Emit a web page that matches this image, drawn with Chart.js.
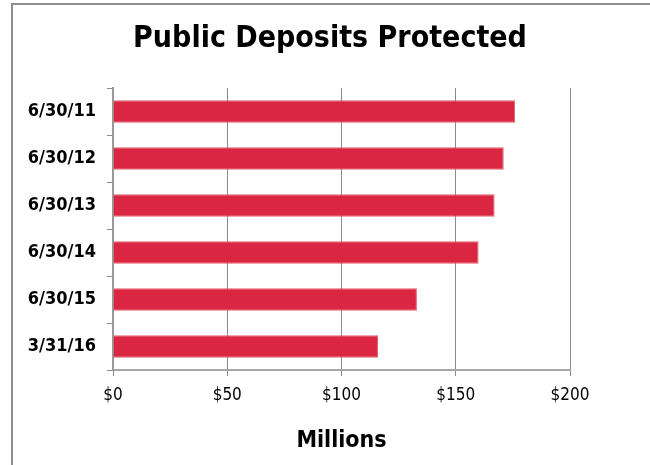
<!DOCTYPE html>
<html>
<head>
<meta charset="utf-8">
<script src="https://cdn.jsdelivr.net/npm/chart.js@4/dist/chart.umd.min.js"></script>
<style>
  html, body { margin: 0; padding: 0; background: #fff; overflow: hidden; }
  body { width: 650px; height: 465px; position: relative; }
  /* рамка діаграми: видно лише верхній і лівий край */
  #frame {
    position: absolute; left: 11px; top: 3px; right: -20px; bottom: -20px;
    border-left: 2px solid #8f8f8f; border-top: 2px solid #8f8f8f;
  }
  #wrap { position: absolute; left: 0; top: 0; width: 650px; height: 465px; }
</style>
</head>
<body>
<div id="frame"></div>
<div id="wrap"><canvas id="depositsChart"></canvas></div>
<script>
// Дати звітів і суми захищених депозитів (млн $)
const periods = ['6/30/11', '6/30/12', '6/30/13', '6/30/14', '6/30/15', '3/31/16'];
const deposits = [176, 171, 167, 160, 133, 116];
const axisTicks = [0, 50, 100, 150, 200];

const FONT = "'DejaVu Sans Condensed', 'DejaVu Sans', sans-serif";

const ctx = document.getElementById('depositsChart').getContext('2d');
new Chart(ctx, {
    type: 'bar',
    data: {
        labels: periods,
        datasets: [{
            label: 'Public Deposits Protected',
            data: deposits,
            backgroundColor: '#DA2641',
            borderColor: '#E4606F',
            borderWidth: 1,
            barPercentage: 0.48,
            categoryPercentage: 1.0
        }]
    },
    options: {
        indexAxis: 'y',
        responsive: true,
        maintainAspectRatio: false,
        animation: false,
        layout: { padding: { left: 10, right: 0, top: 0, bottom: 0 } },
        plugins: {
            legend: { display: false },
            tooltip: { enabled: false },
            title: {
                display: true,
                text: 'Public Deposits Protected',
                color: '#000',
                font: { family: FONT, size: 30, weight: 'bold' },
                padding: { top: 21, bottom: 31 }
            }
        },
        scales: {
            x: {
                min: 0,
                max: 200,
                afterBuildTicks: (scale) => {
                    scale.ticks = axisTicks.map(v => ({ value: v }));
                },
                ticks: {
                    color: '#000',
                    padding: 9,
                    font: { family: FONT, size: 17 },
                    callback: (v) => '$' + v
                },
                grid: { color: '#8a8a8a', lineWidth: 1, tickLength: 6 },
                border: { display: true, color: '#a6a6a6', width: 2 },
                title: {
                    display: true,
                    text: 'Millions',
                    color: '#000',
                    font: { family: FONT, size: 23, weight: 'bold' },
                    padding: { top: 13, bottom: 10 }
                }
            },
            y: {
                afterFit: (scale) => { scale.width = 103; },
                ticks: {
                    color: '#000',
                    padding: 11,
                    font: { family: FONT, size: 18, weight: 'bold' }
                },
                grid: {
                    offset: true,
                    drawOnChartArea: false,
                    color: '#8a8a8a',
                    tickLength: 6
                },
                border: { display: true, color: '#999', width: 2 }
            },
            // пуста права вісь — лише відступ справа від області графіка
            spacer: {
                axis: 'y',
                type: 'category',
                position: 'right',
                afterFit: (scale) => { scale.width = 80; },
                ticks: { display: false },
                grid: { display: false },
                border: { display: false }
            }
        }
    }
});
</script>
</body>
</html>
